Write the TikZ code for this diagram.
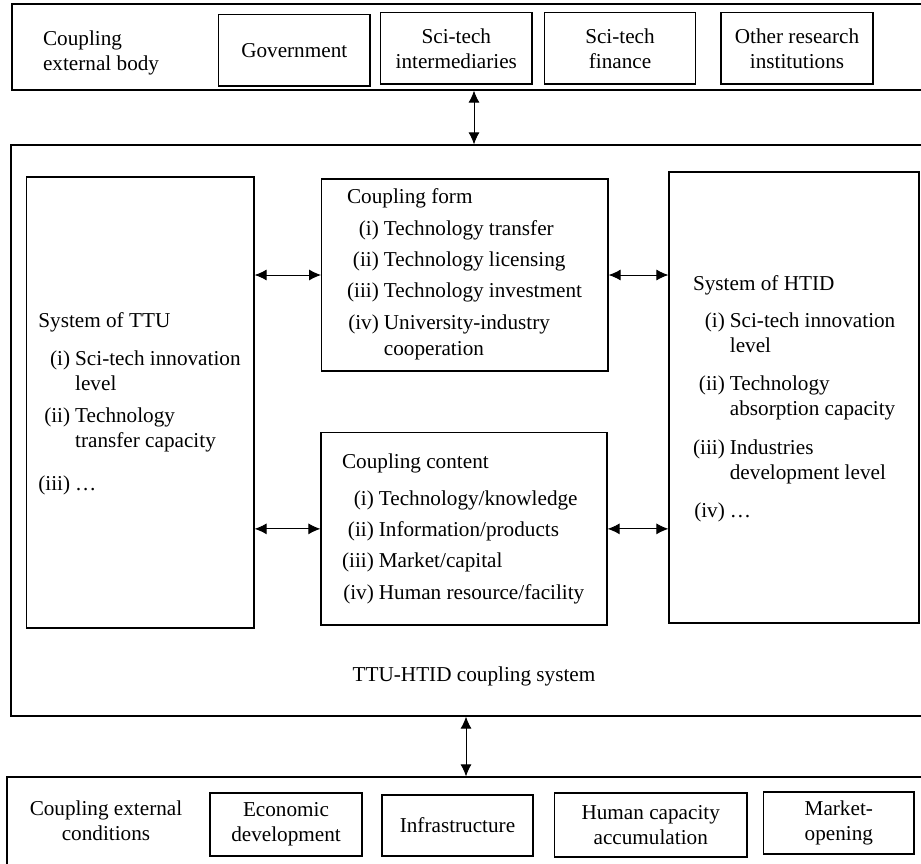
\documentclass[tikz,border=0pt]{standalone}
\usepackage{fontspec}
\setmainfont{Liberation Serif}
\usetikzlibrary{arrows.meta,calc}
\begin{document}
\begin{tikzpicture}[x=0.5pt,y=-0.5pt,
    font=\fontsize{10.6}{12.5}\selectfont,
    frame/.style={draw, line width=0.6pt, inner sep=0pt},
    box/.style={draw, line width=0.6pt, inner sep=0pt, align=center},
    link/.style={{Latex[length=6pt,width=5.5pt]}-{Latex[length=6pt,width=5.5pt]}, line width=0.5pt}]
  \clip (0,0) rectangle (921,863);

  % outer frames
  \node[frame, minimum width=456.5pt, minimum height=43pt] (ext) at (468.5,47) {};
  \node[frame, minimum width=457pt, minimum height=285.5pt] (sys) at (468,430.5) {};
  \node[frame, minimum width=459pt, minimum height=46.5pt] (cond) at (466,823.5) {};

  % coupling external body
  \node[anchor=west, align=left] (extlabel) at (36,53) {Coupling\\external body};
  \node[box, minimum width=75.75pt, minimum height=35.85pt] (gov) at (294.25,50.15) {Government};
  \node[box, minimum width=75.7pt, minimum height=35.65pt] (inter) at (456.3,48.35) {Sci-tech\\intermediaries};
  \node[box, minimum width=75.5pt, minimum height=35.65pt] (fin) at (620,48.35) {Sci-tech\\finance};
  \node[box, minimum width=76pt, minimum height=35.65pt] (other) at (797,48.35) {Other research\\institutions};

  % coupling system
  \node[box, minimum width=113.65pt, minimum height=225.5pt] (ttu) at (140.35,402.5) {};
  \node[box, minimum width=143.15pt, minimum height=96pt] (form) at (464.85,275) {};
  \node[box, minimum width=143pt, minimum height=96.15pt] (content) at (464,528.85) {};
  \node[box, minimum width=125pt, minimum height=225.5pt] (htid) at (794,397.5) {};

  \node[anchor=base west, inner sep=0pt] (ttulist) at (38,327) {%
    \begin{tabular}[t]{@{}r@{\hspace{2.5pt}}l@{}}
      \multicolumn{2}{@{}l@{}}{System of TTU}\\[6.5pt]
      (i) & Sci-tech innovation\\
          & level\\[3.5pt]
      (ii) & Technology\\
           & transfer capacity\\[9pt]
      (iii) & \ldots
    \end{tabular}};
  \node[anchor=base west, inner sep=0pt] (formlist) at (346.7,203.5) {%
    \begin{tabular}[t]{@{}r@{\hspace{2.5pt}}l@{}}
      \multicolumn{2}{@{}l@{}}{Coupling form}\\[3.5pt]
      (i) & Technology transfer\\[3pt]
      (ii) & Technology licensing\\[3pt]
      (iii) & Technology investment\\[3.5pt]
      (iv) & University-industry\\[0.5pt]
           & cooperation
    \end{tabular}};
  \node[anchor=base west, inner sep=0pt] (contlist) at (341.7,468.5) {%
    \begin{tabular}[t]{@{}r@{\hspace{2.5pt}}l@{}}
      \multicolumn{2}{@{}l@{}}{Coupling content}\\[6pt]
      (i) & Technology/knowledge\\[3pt]
      (ii) & Information/products\\[3pt]
      (iii) & Market/capital\\[3.5pt]
      (iv) & Human resource/facility
    \end{tabular}};
  \node[anchor=base west, inner sep=0pt] (htidlist) at (692.7,290) {%
    \begin{tabular}[t]{@{}r@{\hspace{2.5pt}}l@{}}
      \multicolumn{2}{@{}l@{}}{System of HTID}\\[6pt]
      (i) & Sci-tech innovation\\
          & level\\[6.5pt]
      (ii) & Technology\\
           & absorption capacity\\[7pt]
      (iii) & Industries\\
            & development level\\[6.5pt]
      (iv) & \ldots
    \end{tabular}};
  \node (syslabel) at (474,676) {TTU-HTID coupling system};

  % coupling external conditions
  \node[align=center] (condlabel) at (106,821) {Coupling external\\conditions};
  \node[box, minimum width=76pt, minimum height=31.5pt] (econ) at (286,824.5) {Economic\\development};
  \node[box, minimum width=75.5pt, minimum height=30.5pt] (infra) at (457.5,825.5) {Infrastructure};
  \node[box, minimum width=96.25pt, minimum height=32pt] (human) at (650.75,825) {Human capacity\\accumulation};
  \node[box, minimum width=75.2pt, minimum height=31pt] (market) at (838.8,823) {Market-\\opening};

  % connectors
  \coordinate (upArr) at ($(ext.south)+(5.5,0)$);
  \coordinate (lowArr) at ($(sys.south)+(-2,0)$);
  \draw[link] (upArr) -- (upArr |- sys.north);
  \draw[link] (lowArr) -- (lowArr |- cond.north);
  \draw[link] (ttu.east |- form.west) -- (form.west);
  \draw[link] (ttu.east |- content.west) -- (content.west);
  \draw[link] (form.east) -- (htid.west |- form.east);
  \draw[link] (content.east) -- (htid.west |- content.east);
\end{tikzpicture}
\end{document}
